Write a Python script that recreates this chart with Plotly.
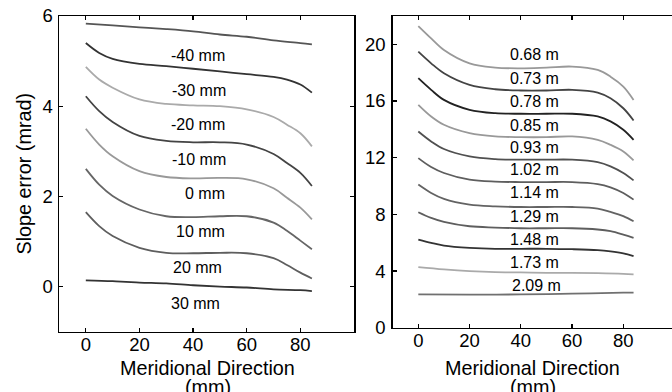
import plotly.graph_objects as go

# ---------------- data: left panel (offset in mm) ----------------
left_labels = ["-40 mm", "-30 mm", "-20 mm", "-10 mm", "0 mm", "10 mm", "20 mm", "30 mm"]
x_full = [0, 5, 10, 20, 30, 40, 50, 60, 70, 75, 80, 84.3]
x_lin = [0, 10, 20, 30, 40, 50, 60, 70, 80, 84.3]

left_m40 = [5.83, 5.79, 5.75, 5.71, 5.66, 5.59, 5.54, 5.46, 5.40, 5.37]
left_m30 = [5.40, 5.18, 5.05, 4.94, 4.89, 4.83, 4.77, 4.71, 4.65, 4.59, 4.48, 4.30]
left_m20 = [4.87, 4.59, 4.41, 4.15, 4.05, 4.02, 4.00, 3.93, 3.76, 3.59, 3.40, 3.11]
left_m10 = [4.22, 3.89, 3.65, 3.34, 3.23, 3.20, 3.20, 3.15, 2.94, 2.74, 2.52, 2.23]
left_0 = [3.50, 3.15, 2.89, 2.56, 2.43, 2.40, 2.41, 2.38, 2.18, 1.97, 1.75, 1.49]
left_10 = [2.61, 2.26, 2.01, 1.71, 1.56, 1.54, 1.56, 1.56, 1.42, 1.24, 1.02, 0.83]
left_20 = [1.65, 1.34, 1.12, 0.86, 0.75, 0.74, 0.75, 0.74, 0.63, 0.48, 0.31, 0.18]
left_30 = [0.14, 0.12, 0.09, 0.07, 0.03, 0.00, -0.02, -0.06, -0.08, -0.10]

left_label_x = [42.0, 42.2, 42.0, 42.3, 44.4, 42.6, 41.8, 41.0]
left_label_y = [5.13, 4.34, 3.60, 2.82, 2.07, 1.22, 0.43, -0.37]

# ---------------- data: right panel (distance in m) ----------------
right_labels = ["0.68 m", "0.73 m", "0.78 m", "0.85 m", "0.93 m", "1.02 m",
                "1.14 m", "1.29 m", "1.48 m", "1.73 m", "2.09 m"]
rx = [0, 5, 10, 20, 30, 40, 50, 60, 70, 75, 80, 84]
rx_j = [0, 10, 20, 30, 40, 50, 60, 70, 80, 84]
rx_k = [0, 20, 40, 60, 80, 84]

r_068 = [21.29, 20.42, 19.60, 18.66, 18.36, 18.31, 18.36, 18.43, 18.19, 17.72, 17.02, 16.08]
r_073 = [19.48, 18.66, 17.96, 17.14, 16.83, 16.74, 16.74, 16.79, 16.60, 16.20, 15.49, 14.63]
r_078 = [17.61, 16.79, 16.08, 15.38, 15.14, 15.10, 15.10, 15.10, 14.91, 14.56, 13.97, 13.26]
r_085 = [15.73, 14.91, 14.32, 13.73, 13.50, 13.45, 13.45, 13.50, 13.26, 12.91, 12.44, 11.81]
r_093 = [13.85, 13.15, 12.61, 12.09, 11.90, 11.86, 11.86, 11.86, 11.69, 11.39, 10.92, 10.40]
r_102 = [11.97, 11.34, 10.92, 10.45, 10.31, 10.28, 10.28, 10.28, 10.14, 9.91, 9.51, 9.04]
r_114 = [10.10, 9.51, 9.09, 8.69, 8.57, 8.52, 8.52, 8.52, 8.41, 8.17, 7.87, 7.51]
r_129 = [8.15, 7.75, 7.47, 7.16, 7.07, 7.02, 7.02, 7.02, 6.93, 6.81, 6.57, 6.34]
r_148 = [6.22, 5.99, 5.80, 5.64, 5.57, 5.57, 5.57, 5.54, 5.47, 5.38, 5.24, 5.05]
r_173 = [4.27, 4.11, 3.99, 3.92, 3.90, 3.87, 3.87, 3.85, 3.80, 3.76]
r_209 = [2.35, 2.33, 2.35, 2.40, 2.47, 2.47]

right_label_x = [45.5, 45.5, 45.5, 45.5, 45.5, 45.5, 45.5, 45.5, 45.5, 45.5, 46.2]
right_label_y = [19.27, 17.56, 15.96, 14.27, 12.75, 11.15, 9.51, 7.82, 6.25, 4.58, 3.01]

# ---------------- styling ----------------
left_series = [(x_lin, left_m40, "#555555"), (x_full, left_m30, "#333333"),
               (x_full, left_m20, "#aaaaaa"), (x_full, left_m10, "#444444"),
               (x_full, left_0, "#999999"), (x_full, left_10, "#666666"),
               (x_full, left_20, "#5e5e5e"), (x_lin, left_30, "#333333")]
right_series = [(rx, r_068, "#999999"), (rx, r_073, "#444444"), (rx, r_078, "#222222"),
                (rx, r_085, "#999999"), (rx, r_093, "#505050"), (rx, r_102, "#5e5e5e"),
                (rx, r_114, "#636363"), (rx, r_129, "#5e5e5e"), (rx, r_148, "#333333"),
                (rx_j, r_173, "#aaaaaa"), (rx_k, r_209, "#707070")]

FONT = "Liberation Sans, Arial, sans-serif"
W, H = 672, 392

fig = go.Figure()
for xs, ys, c in left_series:
    fig.add_trace(go.Scatter(x=xs, y=ys, mode="lines",
                             line=dict(color=c, width=1.8, shape="spline", smoothing=1.0),
                             xaxis="x", yaxis="y", showlegend=False, hoverinfo="skip"))
for xs, ys, c in right_series:
    fig.add_trace(go.Scatter(x=xs, y=ys, mode="lines",
                             line=dict(color=c, width=1.8, shape="spline", smoothing=1.0),
                             xaxis="x2", yaxis="y2", showlegend=False, hoverinfo="skip"))

annotations = []
for t, lx, ly in zip(left_labels, left_label_x, left_label_y):
    annotations.append(dict(text=t, x=lx, y=ly, xref="x", yref="y", showarrow=False,
                            font=dict(size=16, color="black", family=FONT)))
for t, lx, ly in zip(right_labels, right_label_x, right_label_y):
    annotations.append(dict(text=t, x=lx, y=ly, xref="x2", yref="y2", showarrow=False,
                            font=dict(size=16, color="black", family=FONT)))

def px(xp):
    return xp / W

def py(yp):
    return (H - yp) / H

title_font = dict(size=19.8, color="black", family=FONT)
for cx in (207.5, 532.5):
    annotations.append(dict(text="Meridional Direction", x=px(cx), y=py(367.5), xref="paper", yref="paper",
                            xanchor="center", yanchor="middle", showarrow=False, font=title_font))
    annotations.append(dict(text="(mm)", x=px(cx), y=py(386.5), xref="paper", yref="paper",
                            xanchor="center", yanchor="middle", showarrow=False, font=title_font))
annotations.append(dict(text="Slope error (mrad)", x=px(23.5), y=py(174), xref="paper", yref="paper",
                        xanchor="center", yanchor="middle", textangle=-90, showarrow=False, font=title_font))

axis_common = dict(showgrid=False, zeroline=False, showline=True, linecolor="black", linewidth=1.5,
                   ticks="inside", ticklen=4, tickwidth=1.2, tickcolor="black", automargin=False,
                   tickfont=dict(size=18.5, color="black", family=FONT))

fig.update_layout(
    width=W, height=H, margin=dict(l=0, r=0, t=0, b=0, autoexpand=False),
    paper_bgcolor="white", plot_bgcolor="white",
    xaxis=dict(domain=[px(59), px(354)], range=[-10, 100], tickvals=[0, 20, 40, 60, 80],
               mirror="ticks", anchor="y", ticklabelstandoff=-4, **axis_common),
    yaxis=dict(domain=[py(331.7), py(16)], range=[-1, 6], tickvals=[0, 2, 4, 6],
               mirror="ticks", anchor="x", ticklabelstandoff=1, **axis_common),
    xaxis2=dict(domain=[px(392.7), 1.0], range=[-10, 99], tickvals=[0, 20, 40, 60, 80],
                mirror="ticks", anchor="y2", ticklabelstandoff=-4, **axis_common),
    yaxis2=dict(domain=[py(327.7), py(16)], range=[0, 22], tickvals=[0, 4, 8, 12, 16, 20],
                anchor="x2", ticklabelstandoff=2, **axis_common),
    annotations=annotations,
)

fig.write_html("out.html", config={"displayModeBar": False, "staticPlot": True},
               post_script="document.body.style.margin='0';document.body.style.overflow='hidden';")
